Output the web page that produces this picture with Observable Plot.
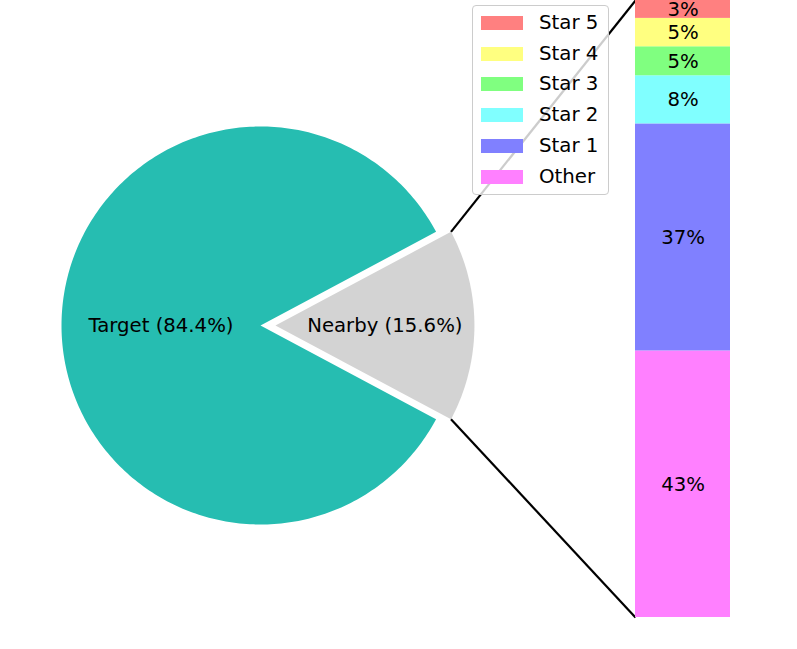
<!DOCTYPE html>
<html><head><meta charset="utf-8">
<script src="https://cdn.jsdelivr.net/npm/d3@7"></script>
<script src="https://cdn.jsdelivr.net/npm/@observablehq/plot@0.6"></script>
<style>
body{margin:0;background:#fff;font-family:"DejaVu Sans",sans-serif;}
#chart{position:relative;width:797px;height:649px;overflow:hidden;}
#chart svg{position:absolute;left:0;top:0;}
#legend{position:absolute;left:472px;top:5px;width:135px;height:188px;background:rgba(255,255,255,0.8);border:1px solid #cccccc;border-radius:4px;font-size:19.8px;color:#000;}
#legend .row{position:absolute;left:0;height:20px;}
#legend .sw{position:absolute;left:8px;width:42px;height:14px;}
#legend .lb{position:absolute;left:66px;white-space:nowrap;line-height:20px;}
</style></head><body><div id="chart"></div>
<script>
// ---- data ----
const pieLabels = ["Nearby", "Target"];
const pieValues = [15.6, 84.4];
const pieColors = ["#d3d3d3", "#26bdb1"];
const pieExplode = [0.075, 0];
const pieLabelDist = [0.55, 0.5];

const barLabels = ["Other", "Star 1", "Star 2", "Star 3", "Star 4", "Star 5"];
const barValues = [43.2, 36.8, 7.8, 4.7, 4.6, 2.9];
const barColors = ["#ff80ff", "#8080ff", "#80ffff", "#80ff80", "#ffff80", "#ff8080"];

// ---- layout (pixels) ----
const W = 797, H = 649;
const PIE = {cx: 260, cy: 325, r: 199};
const BAR = {left: 635, right: 730, top: 0, bottom: 617};
const FS = 19.7;

// ---- pie geometry (in pie units, radius = 1) ----
const total = d3.sum(pieValues);
let a = -pieValues[0] / total * 180; // center the first slice on 0°
const slices = pieValues.map((v, i) => {
  const a0 = a, a1 = a + v / total * 360; a = a1;
  const mid = (a0 + a1) / 2 * Math.PI / 180;
  const ox = pieExplode[i] * Math.cos(mid), oy = pieExplode[i] * Math.sin(mid);
  return {label: pieLabels[i], value: v, color: pieColors[i], a0, a1, mid, ox, oy, i};
});
const wedgePts = slices.map(s => {
  const pts = [{x: s.ox, y: s.oy}];
  const n = Math.ceil(s.a1 - s.a0);
  for (let k = 0; k <= n; k++) {
    const t = (s.a0 + (s.a1 - s.a0) * k / n) * Math.PI / 180;
    pts.push({x: s.ox + Math.cos(t), y: s.oy + Math.sin(t)});
  }
  pts.push({x: s.ox, y: s.oy});
  return pts;
});
const pieText = slices.map(s => ({
  x: s.ox + pieLabelDist[s.i] * Math.cos(s.mid),
  y: s.oy + pieLabelDist[s.i] * Math.sin(s.mid),
  text: `${s.label} (${s.value.toFixed(1)}%)`
}));
// connectors from the exploded slice corners to the bar corners
const ex = slices[0];
const bx = (BAR.left - PIE.cx) / PIE.r;
const connectors = [
  {x1: ex.ox + Math.cos(ex.a1 * Math.PI / 180), y1: ex.oy + Math.sin(ex.a1 * Math.PI / 180), x2: bx, y2: (PIE.cy - BAR.top) / PIE.r},
  {x1: ex.ox + Math.cos(ex.a0 * Math.PI / 180), y1: ex.oy + Math.sin(ex.a0 * Math.PI / 180), x2: bx, y2: (PIE.cy - BAR.bottom) / PIE.r}
];

const font = "'DejaVu Sans', sans-serif";
const piePlot = Plot.plot({
  width: W, height: H, margin: 0,
  style: {background: "transparent", fontFamily: font},
  x: {domain: [-1, 1], range: [PIE.cx - PIE.r, PIE.cx + PIE.r], axis: null},
  y: {domain: [-1, 1], range: [PIE.cy + PIE.r, PIE.cy - PIE.r], axis: null},
  marks: [
    ...wedgePts.map((pts, i) => Plot.line(pts, {x: "x", y: "y", fill: slices[i].color, stroke: "none"})),
    Plot.text(pieText, {x: "x", y: "y", text: "text", fontSize: FS, fill: "black", fontFamily: font}),
    Plot.link(connectors, {x1: "x1", y1: "y1", x2: "x2", y2: "y2", stroke: "black", strokeWidth: 2.2})
  ]
});

const barData = barLabels.map((l, i) => ({label: l, value: barValues[i], color: barColors[i]}));
const barPlot = Plot.plot({
  width: W, height: H, margin: 0,
  style: {background: "transparent", fontFamily: font, overflow: "visible"},
  x: {type: "band", domain: ["bar"], range: [BAR.left, BAR.right], padding: 0, axis: null},
  y: {domain: [0, d3.sum(barValues)], range: [BAR.bottom, BAR.top], axis: null},
  color: {domain: barLabels, range: barColors},
  marks: [
    Plot.barY(barData, {x: () => "bar", y: "value", fill: "label"}),
    Plot.text(barData, Plot.stackY({x: () => "bar", y: "value", text: d => `${Math.round(d.value)}%`, fontSize: FS, fill: "black", fontFamily: font}))
  ]
});

const chart = document.getElementById("chart");
chart.append(piePlot, barPlot);

// legend (top = last bar segment)
const legend = document.createElement("div");
legend.id = "legend";
barData.slice().reverse().forEach((d, k) => {
  const row = document.createElement("div");
  row.className = "row";
  row.style.top = (7 + k * 30.7) + "px";
  row.innerHTML = `<div class="sw" style="top:3px;background:${d.color}"></div><div class="lb">${d.label}</div>`;
  legend.append(row);
});
chart.append(legend);
</script></body></html>
